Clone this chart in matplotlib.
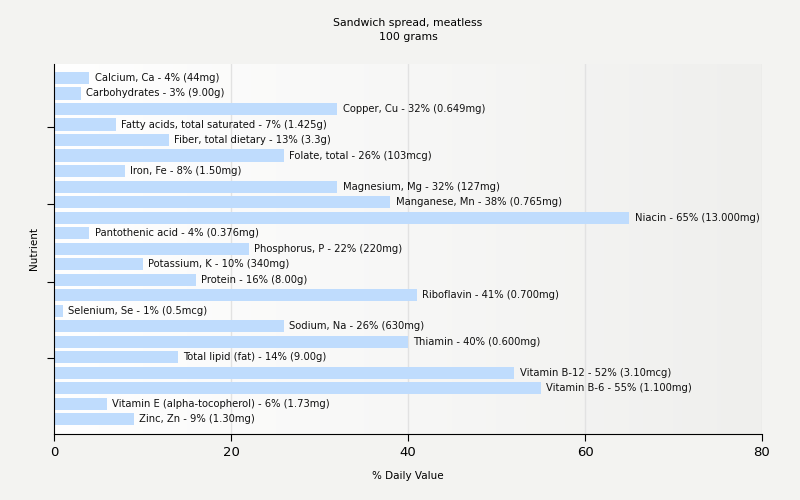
import matplotlib
matplotlib.use("Agg")
import matplotlib.pyplot as plt
import numpy as np

nutrients = ["Calcium, Ca", "Carbohydrates", "Copper, Cu", "Fatty acids, total saturated",
             "Fiber, total dietary", "Folate, total", "Iron, Fe", "Magnesium, Mg",
             "Manganese, Mn", "Niacin", "Pantothenic acid", "Phosphorus, P",
             "Potassium, K", "Protein", "Riboflavin", "Selenium, Se", "Sodium, Na",
             "Thiamin", "Total lipid (fat)", "Vitamin B-12", "Vitamin B-6",
             "Vitamin E (alpha-tocopherol)", "Zinc, Zn"]
values = [4, 3, 32, 7, 13, 26, 8, 32, 38, 65, 4, 22, 10, 16, 41, 1, 26, 40, 14, 52, 55, 6, 9]
amounts = ["44mg", "9.00g", "0.649mg", "1.425g", "3.3g", "103mcg", "1.50mg", "127mg",
           "0.765mg", "13.000mg", "0.376mg", "220mg", "340mg", "8.00g", "0.700mg",
           "0.5mcg", "630mg", "0.600mg", "9.00g", "3.10mcg", "1.100mg", "1.73mg", "1.30mg"]

fig = plt.figure(figsize=(8, 5), dpi=100, facecolor="#f3f3f1")
ax = fig.add_axes([0.0675, 0.132, 0.885, 0.74])

# gradient background
grad = np.linspace(0, 1, 256).reshape(1, -1)
ax.imshow(grad, extent=[0, 80, 22.95, -0.9], aspect="auto",
          cmap=matplotlib.colors.LinearSegmentedColormap.from_list("g", ["#ffffff", "#efefed"]),
          zorder=0)

y = np.arange(len(nutrients))
ax.barh(y, values, height=0.78, color="#bfdcfd", zorder=2)
for yi, v, n, a in zip(y, values, nutrients, amounts):
    ax.text(v + 0.6, yi, f"{n} - {v}% ({a})", va="center", ha="left",
            fontsize=7.2, color="#111111", zorder=3)

for gx in [20, 40, 60, 80]:
    ax.axvline(gx, color="#e2e2e2", lw=1, zorder=1)

ax.set_xlim(0, 80)
ax.set_ylim(22.95, -0.9)
ax.set_xticks([0, 20, 40, 60, 80])
ax.set_yticks([3.15, 8.15, 13.15, 18.05])
ax.set_yticklabels([])
ax.tick_params(axis="x", length=5, labelsize=9.5)
ax.tick_params(axis="y", length=5)
for s in ["top", "right"]:
    ax.spines[s].set_visible(False)
ax.set_xlabel("% Daily Value", fontsize=7.5, labelpad=9)
ax.set_ylabel("Nutrient", fontsize=7.5, labelpad=2)
ax.set_title("Sandwich spread, meatless\n100 grams", fontsize=7.8, pad=17, linespacing=1.6)

fig.savefig("out.png", dpi=100, facecolor=fig.get_facecolor())
